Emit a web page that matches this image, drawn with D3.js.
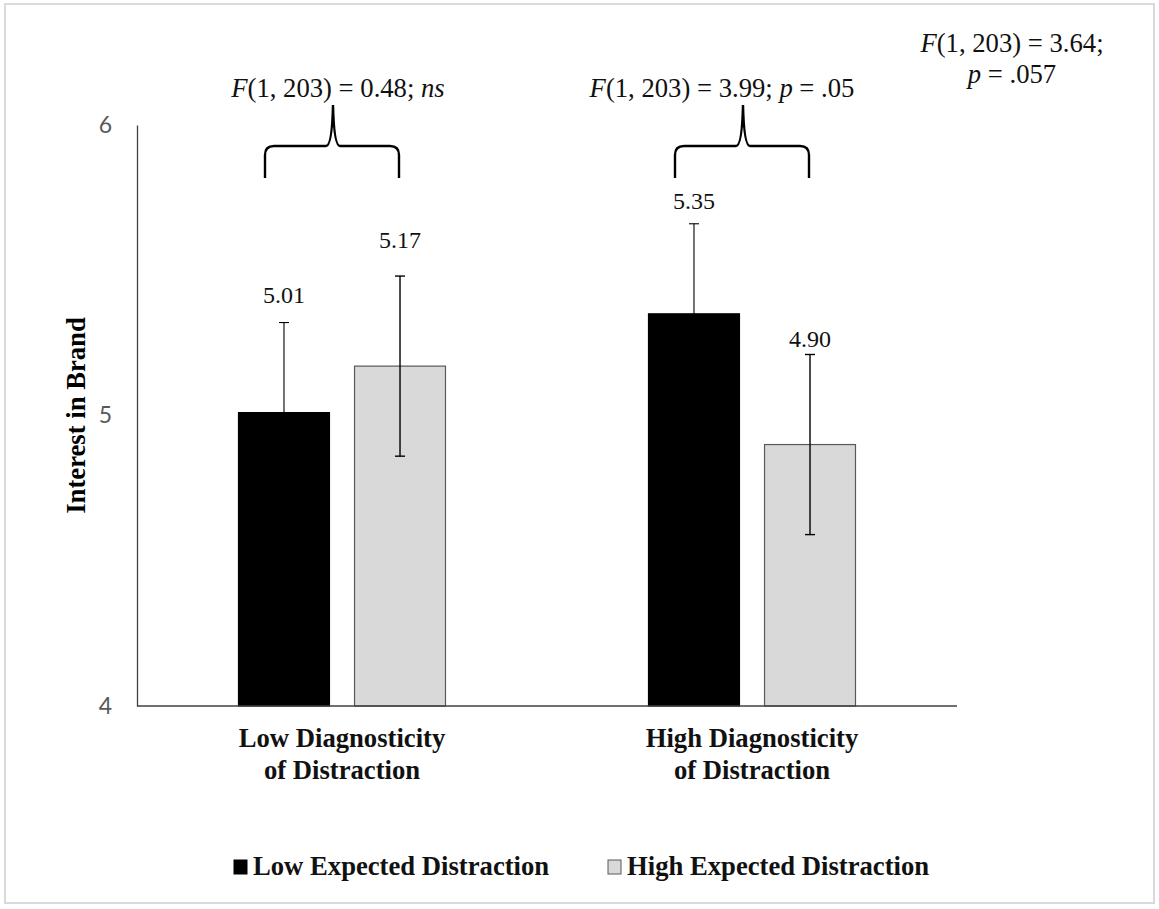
<!DOCTYPE html>
<html>
<head>
<meta charset="utf-8">
<script src="https://cdn.jsdelivr.net/npm/d3@7"></script>
<style>
  html, body { margin: 0; padding: 0; background: #fff; }
  svg { display: block; }
</style>
</head>
<body>
<svg id="chart" width="1159" height="909"></svg>
<script>
// ---- data ----
const groups = ["Low Diagnosticity of Distraction", "High Diagnosticity of Distraction"];
const groupLines = [["Low Diagnosticity", "of Distraction"], ["High Diagnosticity", "of Distraction"]];
const seriesNames = ["Low Expected Distraction", "High Expected Distraction"];
const lowExpected = [5.01, 5.35];
const highExpected = [5.17, 4.90];
const lowExpectedErr = [0.31, 0.31];
const highExpectedErr = [0.31, 0.31];
const yTicks = [4, 5, 6];
const yTitle = "Interest in Brand";
const groupTests = [
  [["F", true], ["(1, 203) = 0.48; ", false], ["ns", true]],
  [["F", true], ["(1, 203) = 3.99; ", false], ["p", true], [" = .05", false]]
];
const overallTestLine1 = [["F", true], ["(1, 203) = 3.64;", false]];
const overallTestLine2 = [["p", true], [" = .057", false]];

// ---- layout / style ----
const colors = ["#000000", "#d9d9d9"];
const strokes = ["#000000", "#595959"];
const serif = "'Liberation Serif', 'Times New Roman', serif";
const labelLift = [[20, 28], [15, 7]]; // per group, per series (px above error cap)

const svg = d3.select("#chart");

// border
svg.append("rect").attr("x", 5).attr("y", 4).attr("width", 1149).attr("height", 899)
  .attr("fill", "#fff").attr("stroke", "#d9d9d9").attr("stroke-width", 2);

const plot = { left: 137, right: 957, top: 125, bottom: 706 };

const y = d3.scaleLinear().domain([4, 6]).range([plot.bottom, plot.top]);
const x0 = d3.scaleBand().domain(groups).range([plot.left, plot.right]).padding(0);
const x1 = d3.scaleBand().domain(seriesNames).range([101.5, 308.5]).paddingInner(0.216).paddingOuter(0);

const rows = groups.map((g, i) => ({
  group: g, i,
  values: [
    { s: seriesNames[0], si: 0, v: lowExpected[i], e: lowExpectedErr[i] },
    { s: seriesNames[1], si: 1, v: highExpected[i], e: highExpectedErr[i] }
  ]
}));

// bars
const gGroups = svg.append("g").selectAll("g").data(rows).join("g")
  .attr("transform", d => `translate(${x0(d.group)},0)`);

gGroups.selectAll("rect.bar").data(d => d.values.map(v => ({ ...v, gi: d.i }))).join("rect")
  .attr("class", "bar")
  .attr("x", d => x1(d.s))
  .attr("y", d => y(d.v))
  .attr("width", x1.bandwidth())
  .attr("height", d => y(4) - y(d.v))
  .attr("fill", d => colors[d.si])
  .attr("stroke", d => strokes[d.si])
  .attr("stroke-width", 1.2);

// error bars
const eb = gGroups.selectAll("g.err").data(d => d.values.map(v => ({ ...v, gi: d.i }))).join("g").attr("class", "err")
  .attr("stroke", "#000").attr("stroke-width", d => d.si === 0 ? 1.1 : 1.4);
eb.append("line")
  .attr("x1", d => x1(d.s) + x1.bandwidth() / 2).attr("x2", d => x1(d.s) + x1.bandwidth() / 2)
  .attr("y1", d => y(d.v + d.e)).attr("y2", d => y(d.v - d.e));
eb.append("line")
  .attr("x1", d => x1(d.s) + x1.bandwidth() / 2 - 5).attr("x2", d => x1(d.s) + x1.bandwidth() / 2 + 5)
  .attr("y1", d => y(d.v + d.e)).attr("y2", d => y(d.v + d.e));
eb.append("line")
  .attr("x1", d => x1(d.s) + x1.bandwidth() / 2 - 5).attr("x2", d => x1(d.s) + x1.bandwidth() / 2 + 5)
  .attr("y1", d => y(d.v - d.e)).attr("y2", d => y(d.v - d.e));

// value labels
gGroups.selectAll("text.val").data(d => d.values.map(v => ({ ...v, gi: d.i }))).join("text")
  .attr("class", "val")
  .attr("x", d => x1(d.s) + x1.bandwidth() / 2)
  .attr("y", d => y(d.v + d.e) - labelLift[d.gi][d.si])
  .attr("text-anchor", "middle")
  .attr("font-family", serif).attr("font-size", 24).attr("fill", "#111")
  .text(d => d3.format(".2f")(d.v));

// axes
const yAxis = d3.axisLeft(y).tickValues(yTicks).tickSize(0).tickPadding(25).tickFormat(d3.format("d"));
const gy = svg.append("g").attr("transform", `translate(${plot.left},0)`).call(yAxis);
gy.select(".domain").attr("stroke", "#404040").attr("stroke-width", 1.3);
gy.selectAll("text").attr("font-family", "Lato, 'Open Sans', sans-serif").attr("font-size", 23).attr("fill", "#595959");

svg.append("line").attr("x1", plot.left).attr("x2", plot.right)
  .attr("y1", y(4)).attr("y2", y(4)).attr("stroke", "#404040").attr("stroke-width", 1.3);

// x category labels
const xl = svg.append("g").selectAll("text").data(rows).join("text")
  .attr("x", d => x0(d.group) + x0.bandwidth() / 2)
  .attr("y", 747)
  .attr("text-anchor", "middle")
  .attr("font-family", serif).attr("font-weight", "bold").attr("font-size", 26.67).attr("fill", "#111");
xl.selectAll("tspan").data(d => groupLines[d.i]).join("tspan")
  .attr("x", function() { return d3.select(this.parentNode).attr("x"); })
  .attr("dy", (d, i) => i === 0 ? 0 : 32)
  .text(d => d);

// y title
svg.append("text").attr("transform", `translate(85,${y(5)}) rotate(-90)`)
  .attr("text-anchor", "middle")
  .attr("font-family", serif).attr("font-weight", "bold").attr("font-size", 26.67).attr("fill", "#000")
  .text(yTitle);

// brackets
const bracketOff = { left: -77, right: 57, tip: -9 };
const yb = 178, yh = 146, yt = 105, r = 9;
rows.forEach(d => {
  const cx = x0(d.group) + x0.bandwidth() / 2;
  const L = cx + bracketOff.left, R = cx + bracketOff.right, T = cx + bracketOff.tip;
  const p = d3.path();
  p.moveTo(L, yb);
  p.lineTo(L, yh + r);
  p.quadraticCurveTo(L, yh, L + r, yh);
  p.lineTo(T - 7, yh);
  p.quadraticCurveTo(T - 1, yh, T, yt);
  p.quadraticCurveTo(T + 1, yh, T + 7, yh);
  p.lineTo(R - r, yh);
  p.quadraticCurveTo(R, yh, R, yh + r);
  p.lineTo(R, yb);
  svg.append("path").attr("d", p.toString()).attr("fill", "none")
    .attr("stroke", "#000").attr("stroke-width", 2.4);
});

// annotations
function segText(sel, segs) {
  sel.selectAll("tspan").data(segs).join("tspan")
    .attr("font-style", d => d[1] ? "italic" : "normal")
    .text(d => d[0]);
}
const annOff = [-4, -30];
rows.forEach(d => {
  const cx = x0(d.group) + x0.bandwidth() / 2;
  const t = svg.append("text").attr("x", cx + annOff[d.i]).attr("y", 97)
    .attr("text-anchor", "middle").attr("font-family", serif).attr("font-size", 26.67).attr("fill", "#111")
    .style("white-space", "pre");
  segText(t, groupTests[d.i]);
});
const t1 = svg.append("text").attr("x", 1012).attr("y", 52).attr("text-anchor", "middle")
  .attr("font-family", serif).attr("font-size", 26.67).attr("fill", "#111").style("white-space", "pre");
segText(t1, overallTestLine1);
const t2 = svg.append("text").attr("x", 1012).attr("y", 83).attr("text-anchor", "middle")
  .attr("font-family", serif).attr("font-size", 26.67).attr("fill", "#111").style("white-space", "pre");
segText(t2, overallTestLine2);

// legend
const legendX = [234, 608];
const lg = svg.append("g").selectAll("g").data(seriesNames).join("g")
  .attr("transform", (d, i) => `translate(${legendX[i]},860)`);
lg.append("rect").attr("width", 13).attr("height", 14)
  .attr("fill", (d, i) => colors[i]).attr("stroke", (d, i) => strokes[i]).attr("stroke-width", 1);
lg.append("text").attr("x", 19).attr("y", 15)
  .attr("font-family", serif).attr("font-weight", "bold").attr("font-size", 26.67).attr("fill", "#111")
  .text(d => d);
</script>
</body>
</html>
